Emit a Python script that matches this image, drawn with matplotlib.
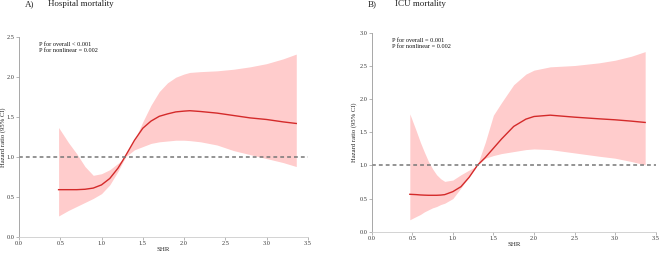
import matplotlib
matplotlib.use("Agg")
import matplotlib.pyplot as plt

plt.rcParams['font.family'] = ['Liberation Serif', 'DejaVu Serif']

# Panel A - hospital mortality
shr_a = [0.48, 0.6, 0.7, 0.8, 0.9, 1.0, 1.1, 1.2, 1.26, 1.3, 1.4, 1.5, 1.6, 1.7, 1.8, 1.9,
         2.0, 2.07, 2.2, 2.4, 2.6, 2.8, 3.0, 3.2, 3.36]
hr_a = [0.59, 0.59, 0.59, 0.595, 0.61, 0.65, 0.73, 0.86, 0.96, 1.03, 1.21, 1.36, 1.45, 1.51, 1.54, 1.565,
        1.575, 1.58, 1.57, 1.55, 1.52, 1.49, 1.47, 1.44, 1.42]
up_a = [1.37, 1.18, 1.04, 0.88, 0.77, 0.79, 0.84, 0.92, 0.97, 1.04, 1.21, 1.44, 1.65, 1.82, 1.93, 2.0,
        2.04, 2.06, 2.07, 2.08, 2.10, 2.13, 2.17, 2.23, 2.29]
lo_a = [0.26, 0.33, 0.38, 0.43, 0.48, 0.54, 0.65, 0.82, 0.94, 1.01, 1.09, 1.13, 1.17, 1.19, 1.20, 1.21,
        1.21, 1.205, 1.19, 1.15, 1.08, 1.03, 0.98, 0.93, 0.88]

# Panel B - ICU mortality
shr_b = [0.47, 0.55, 0.6, 0.65, 0.7, 0.75, 0.8, 0.85, 0.9, 1.0, 1.1, 1.2, 1.29, 1.3, 1.4, 1.5, 1.6,
         1.75, 1.9, 2.0, 2.2, 2.5, 2.8, 3.0, 3.2, 3.37]
hr_b = [0.565, 0.56, 0.555, 0.552, 0.55, 0.55, 0.55, 0.553, 0.56, 0.605, 0.68, 0.82, 0.98, 1.0, 1.12,
        1.26, 1.40, 1.59, 1.70, 1.74, 1.76, 1.73, 1.705, 1.69, 1.67, 1.65]
up_b = [1.78, 1.52, 1.35, 1.2, 1.06, 0.95, 0.86, 0.8, 0.76, 0.78, 0.86, 0.93, 0.99, 1.0, 1.35, 1.76,
        1.95, 2.22, 2.38, 2.44, 2.49, 2.51, 2.55, 2.59, 2.65, 2.72]
lo_b = [0.18, 0.23, 0.26, 0.3, 0.33, 0.36, 0.38, 0.41, 0.43, 0.50, 0.66, 0.83, 0.98, 1.0, 1.11, 1.15,
        1.18, 1.21, 1.24, 1.25, 1.24, 1.19, 1.14, 1.11, 1.06, 1.01]

panels = [
    dict(rect=[0.0287, 0.068, 0.437, 0.785], x=shr_a, hr=hr_a, up=up_a, lo=lo_a,
         ymax=2.5, yticks=[0.0, 0.5, 1.0, 1.5, 2.0, 2.5],
         ptext="P for overall < 0.001\nP for nonlinear = 0.002",
         tag="A)", title="Hospital mortality", tagx=25, titlex=48, ylabx=-0.045),
    dict(rect=[0.5623, 0.0878, 0.4297, 0.782], x=shr_b, hr=hr_b, up=up_b, lo=lo_b,
         ymax=3.0, yticks=[0.0, 0.5, 1.0, 1.5, 2.0, 2.5, 3.0],
         ptext="P for overall = 0.001\nP for nonlinear = 0.002",
         tag="B)", title="ICU mortality", tagx=368, titlex=395, ylabx=-0.052),
]

W, H = 661, 254
fig = plt.figure(figsize=(W / 100, H / 100), dpi=100)

for p in panels:
    ax = fig.add_axes(p["rect"])
    ax.fill_between(p["x"], p["lo"], p["up"], color="#ffcccc", linewidth=0)
    ax.plot(p["x"], p["hr"], color="#d42a2a", linewidth=1.0)
    ax.axhline(1.0, color="#777777", linestyle=(0, (2.5, 2)), linewidth=1.1)
    ax.set_xlim(0, 3.5)
    ax.set_ylim(0, p["ymax"])
    ax.set_xticks([0.0, 0.5, 1.0, 1.5, 2.0, 2.5, 3.0, 3.5])
    ax.set_yticks(p["yticks"])
    ax.xaxis.set_major_formatter(matplotlib.ticker.FormatStrFormatter("%.1f"))
    ax.yaxis.set_major_formatter(matplotlib.ticker.FormatStrFormatter("%.1f"))
    for s in ["top", "right"]:
        ax.spines[s].set_visible(False)
    ax.spines["left"].set_color("#999999")
    ax.spines["bottom"].set_color("#cccccc")
    ax.spines["left"].set_linewidth(0.6)
    ax.spines["bottom"].set_linewidth(0.6)
    ax.tick_params(labelsize=4.5, length=2, width=0.5, pad=1, colors="#999999",
                   labelcolor="#333333")
    ax.set_xlabel("SHR", fontsize=5, labelpad=1, color="#222222")
    ax.set_ylabel("Hazard ratio (95% CI)", fontsize=4.8, color="#222222")
    ax.yaxis.set_label_coords(p["ylabx"], 0.5)
    ax.text(0.07, 0.975, p["ptext"], transform=ax.transAxes, fontsize=4.5,
            va="top", ha="left", linespacing=1.25, color="#111111")
    fig.text(p["tagx"] / W, 1 - 4 / H, p["tag"], fontsize=6.5, va="center", ha="left",
             color="#222222")
    fig.text(p["titlex"] / W, 1 - 4 / H, p["title"], fontsize=6.5, va="center", ha="left",
             color="#222222")

fig.savefig("out.png", dpi=100)
